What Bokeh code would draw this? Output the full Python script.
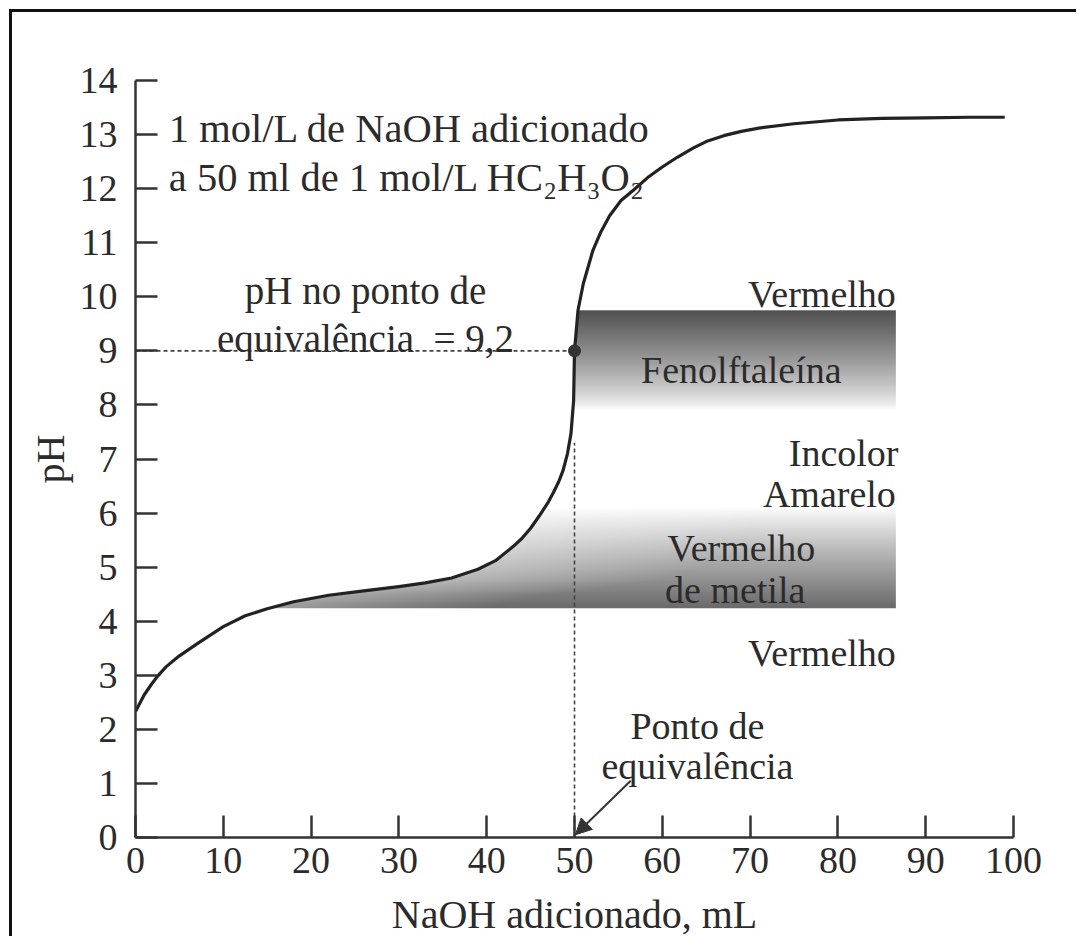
import numpy as np
from bokeh.plotting import figure
from bokeh.models import Range1d, FixedTicker, Arrow, NormalHead, Label
from bokeh.embed import file_html
from bokeh.resources import INLINE

# ---- data ----
naoh_ml = [0, 1, 1.8, 2.5, 3.5, 5, 7, 10, 12.5, 15, 18, 22, 26, 30, 33, 36, 39, 41, 43, 44,
           45, 46, 47, 47.6, 48.2, 48.7, 49.2, 49.6, 49.9, 50, 50.4, 51.0, 52.1, 53, 54.0,
           55.3, 56.7, 58.3, 60, 61.7, 63.5, 65, 67, 69, 71, 75, 80, 85, 90, 95, 99]
ph = [2.33, 2.64, 2.83, 2.98, 3.16, 3.36, 3.58, 3.9, 4.1, 4.23, 4.36, 4.48, 4.56, 4.64, 4.71,
      4.8, 4.96, 5.12, 5.38, 5.53, 5.72, 5.95, 6.2, 6.38, 6.58, 6.79, 7.1, 7.47, 8.08, 9.0,
      9.75, 10.24, 10.86, 11.2, 11.5, 11.78, 11.97, 12.2, 12.4, 12.58, 12.75, 12.87, 12.98,
      13.06, 13.12, 13.2, 13.27, 13.3, 13.31, 13.32, 13.32]

x_ticks = [0, 10, 20, 30, 40, 50, 60, 70, 80, 90, 100]
y_ticks = [0, 1, 2, 3, 4, 5, 6, 7, 8, 9, 10, 11, 12, 13, 14]

equiv_ml = [50]
equiv_ph = [9.0]
equiv_line_top = 7.3

phenol_range = [7.9, 9.75]
methyl_red_range = [4.24, 6.1]
band_right = 86.6

FONT = "Liberation Serif"
INK = "#2b2b2b"
SHIFT = 12  # room taken by the outer frame (margin + border)

p = figure(width=1079 - SHIFT, height=939 - SHIFT, x_range=Range1d(0, 100),
           y_range=Range1d(0, 14), output_backend="svg", toolbar_location=None,
           min_border_left=135 - SHIFT, min_border_right=66,
           min_border_top=80 - SHIFT, min_border_bottom=102)
p.background_fill_color = "white"
p.border_fill_color = "white"
p.outline_line_color = None
p.grid.visible = False
p.styles = {"border-left": "3px solid #111111", "border-top": "3px solid #111111",
            "margin-left": "9px", "margin-top": "9px"}

# ---- axes ----
p.xaxis.ticker = FixedTicker(ticks=x_ticks)
p.yaxis.ticker = FixedTicker(ticks=y_ticks)
for ax in (p.xaxis[0], p.yaxis[0]):
    ax.axis_line_color = "#333333"
    ax.axis_line_width = 2.5
    ax.major_tick_line_color = "#333333"
    ax.major_tick_line_width = 2.5
    ax.major_tick_in = 22
    ax.major_tick_out = 0
    ax.minor_tick_line_color = None
    ax.major_label_text_font = FONT
    ax.major_label_text_font_size = "38px"
    ax.major_label_text_color = INK
    ax.axis_label_text_font = FONT
    ax.axis_label_text_font_size = "40px"
    ax.axis_label_text_font_style = "normal"
    ax.axis_label_text_color = INK
p.xaxis.axis_label = "NaOH adicionado, mL"
p.yaxis.axis_label = "pH"
p.xaxis.major_label_standoff = 10
p.yaxis.major_label_standoff = 18
p.xaxis.axis_label_standoff = 16
p.yaxis.axis_label_standoff = 4

# ---- indicator bands as gradient images, clipped to the right of the curve ----
ph_arr = np.array(ph)
ml_arr = np.array(naoh_ml)

def band_image(lo, hi, kind):
    ncols, nrows = 866, 110
    xs = np.linspace(0, band_right, ncols)
    ys = np.linspace(lo, hi, nrows)
    X, Y = np.meshgrid(xs, ys)
    xc = np.interp(Y, ph_arr, ml_arr)
    if kind == "phenol":
        t = (Y - lo) / (hi - lo)
        dark = 0.68 * np.clip(t, 0, 1) ** 0.8
    else:
        t = (hi - Y) / (hi - lo)
        hfac = 0.65 + 0.35 * np.clip((X - xc) / 25.0, 0, 1)
        dark = 0.58 * np.clip(t, 0, 1) ** 0.9 * hfac
    grey = (255 * (1 - dark)).astype(np.uint8)
    alpha = np.where(X >= xc, 255, 0).astype(np.uint8)
    img = np.empty((nrows, ncols), dtype=np.uint32)
    view = img.view(dtype=np.uint8).reshape((nrows, ncols, 4))
    view[:, :, 0] = grey
    view[:, :, 1] = grey
    view[:, :, 2] = grey
    view[:, :, 3] = alpha
    return img

p.image_rgba(image=[band_image(phenol_range[0], phenol_range[1], "phenol")], x=0,
             y=phenol_range[0], dw=band_right, dh=phenol_range[1] - phenol_range[0])
p.image_rgba(image=[band_image(methyl_red_range[0], methyl_red_range[1], "mred")], x=0,
             y=methyl_red_range[0], dw=band_right, dh=methyl_red_range[1] - methyl_red_range[0])

# ---- dashed guide lines ----
p.line([0, equiv_ml[0]], [equiv_ph[0], equiv_ph[0]], line_color="#444444", line_width=1.6,
       line_dash="4 3")
p.line([equiv_ml[0], equiv_ml[0]], [0, equiv_line_top], line_color="#444444", line_width=1.6,
       line_dash="4 3")

# ---- titration curve ----
p.line(naoh_ml, ph, line_color="#222222", line_width=3.2, line_join="round")
p.scatter(equiv_ml, equiv_ph, size=12, color="#333333")

# ---- texts ----
def lab(x, y, text, align="left", size="40px"):
    p.add_layout(Label(x=x, y=y, text=text, text_font=FONT, text_font_size=size,
                       text_color=INK, text_align=align, text_baseline="alphabetic"))

lab(3.8, 13.12, "1 mol/L de NaOH adicionado", size="40.5px")
lab(3.8, 12.21, "a 50 ml de 1 mol/L HC\u2082H\u2083O\u2082", size="40.5px")
lab(26.2, 10.12, "pH no ponto de", "center", "39px")
lab(26.2, 9.23, "equivalência\u00a0\u00a0= 9,2", "center", "39px")
lab(86.6, 10.06, "Vermelho", "right", "38px")
lab(69.0, 8.64, "Fenolftaleína", "center", "38px")
lab(86.9, 7.12, "Incolor", "right", "38px")
lab(86.6, 6.36, "Amarelo", "right", "38px")
lab(69.0, 5.35, "Vermelho", "center", "38px")
lab(68.3, 4.57, "de metila", "center", "38px")
lab(86.6, 3.42, "Vermelho", "right", "38px")
lab(64.0, 2.07, "Ponto de", "center", "38px")
lab(64.0, 1.33, "equivalência", "center", "38px")

p.add_layout(Arrow(end=NormalHead(size=16, fill_color="#333333", line_color="#333333"),
                   x_start=56.4, y_start=1.05, x_end=50.1, y_end=0.05,
                   line_color="#333333", line_width=2))

open("out.html", "w").write(file_html(p, INLINE))
